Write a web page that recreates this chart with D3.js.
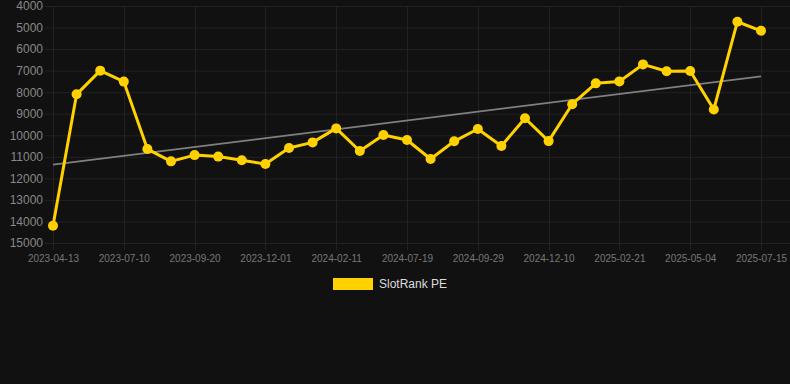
<!DOCTYPE html>
<html><head><meta charset="utf-8">
<script src="https://cdn.jsdelivr.net/npm/d3@7"></script>
<style>
html,body{margin:0;padding:0;background:#111111;}
svg{display:block;font-family:Arial,"Liberation Sans",Helvetica,sans-serif;}
</style></head>
<body>
<svg id="c" width="790" height="384"></svg>
<script>
const dates = ["2023-04-13","2023-05-12","2023-06-10","2023-07-10","2023-08-03","2023-08-27","2023-09-20","2023-10-14","2023-11-07","2023-12-01","2023-12-25","2024-01-18","2024-02-11","2024-04-05","2024-05-30","2024-07-19","2024-08-12","2024-09-05","2024-09-29","2024-10-23","2024-11-16","2024-12-10","2025-01-03","2025-01-28","2025-02-21","2025-03-17","2025-04-10","2025-05-04","2025-05-28","2025-06-21","2025-07-15"];
const rankValues = [14200,8100,7000,7510,10640,11210,10920,10990,11160,11330,10590,10330,9680,10730,9990,10220,11100,10280,9710,10500,9210,10270,8560,7590,7500,6710,7030,7020,8800,4730,5150];
const yTicks = [4000,5000,6000,7000,8000,9000,10000,11000,12000,13000,14000,15000];
const seriesName = "SlotRank PE";

const svg = d3.select("#c");
const x = d3.scalePoint().domain(dates).range([53, 761]);
const y = d3.scaleLinear().domain([4000, 15000]).range([6, 243]);

// horizontal grid
svg.append("g").selectAll("line").data(yTicks).join("line")
  .attr("x1", 45).attr("x2", 790)
  .attr("y1", d => y(d) + 0.5).attr("y2", d => y(d) + 0.5)
  .attr("stroke", "#222222").attr("stroke-width", 1);

const shown = dates.filter((d, i) => i % 3 === 0);
svg.append("g").selectAll("line").data(shown).join("line")
  .attr("x1", d => Math.round(x(d)) + 0.5).attr("x2", d => Math.round(x(d)) + 0.5)
  .attr("y1", 6).attr("y2", 250)
  .attr("stroke", "#222222").attr("stroke-width", 1);

// y axis labels
const yAxis = d3.axisLeft(y).tickValues(yTicks).tickSize(0).tickPadding(0).tickFormat(d => String(d));
const gy = svg.append("g").attr("transform", "translate(43,0)").call(yAxis);
gy.select(".domain").remove();
gy.selectAll("text").attr("fill", "#888888").attr("font-size", 12).attr("font-family", "Arial, 'Liberation Sans', sans-serif");

// x axis labels
const xAxis = d3.axisBottom(x).tickValues(shown).tickSize(0).tickPadding(0);
const gx = svg.append("g").attr("transform", "translate(0,255)").call(xAxis);
gx.select(".domain").remove();
gx.selectAll("text").attr("fill", "#777777").attr("font-size", 10).attr("font-family", "Arial, 'Liberation Sans', sans-serif");

// trend line (least squares)
const n = rankValues.length;
const idx = d3.range(n);
const mx = d3.mean(idx), my = d3.mean(rankValues);
const slope = d3.sum(idx, i => (i - mx) * (rankValues[i] - my)) / d3.sum(idx, i => (i - mx) * (i - mx));
const icpt = my - slope * mx;
svg.append("line")
  .attr("x1", x(dates[0])).attr("y1", y(icpt))
  .attr("x2", x(dates[n - 1])).attr("y2", y(icpt + slope * (n - 1)))
  .attr("stroke", "#808080").attr("stroke-width", 1.8);

// line
const line = d3.line().x((d, i) => x(dates[i])).y(d => y(d));
svg.append("path").datum(rankValues).attr("d", line)
  .attr("fill", "none").attr("stroke", "#FFD100").attr("stroke-width", 3).attr("stroke-linejoin", "round");
svg.append("g").selectAll("circle").data(rankValues).join("circle")
  .attr("cx", (d, i) => x(dates[i])).attr("cy", d => y(d)).attr("r", 5)
  .attr("fill", "#FFD100");

// legend
svg.append("rect").attr("x", 333).attr("y", 278).attr("width", 40).attr("height", 12).attr("fill", "#FFD100");
svg.append("text").attr("x", 379).attr("y", 284).attr("dy", "0.35em")
  .attr("fill", "#dddddd").attr("font-size", 12).text(seriesName);
</script>
</body></html>
